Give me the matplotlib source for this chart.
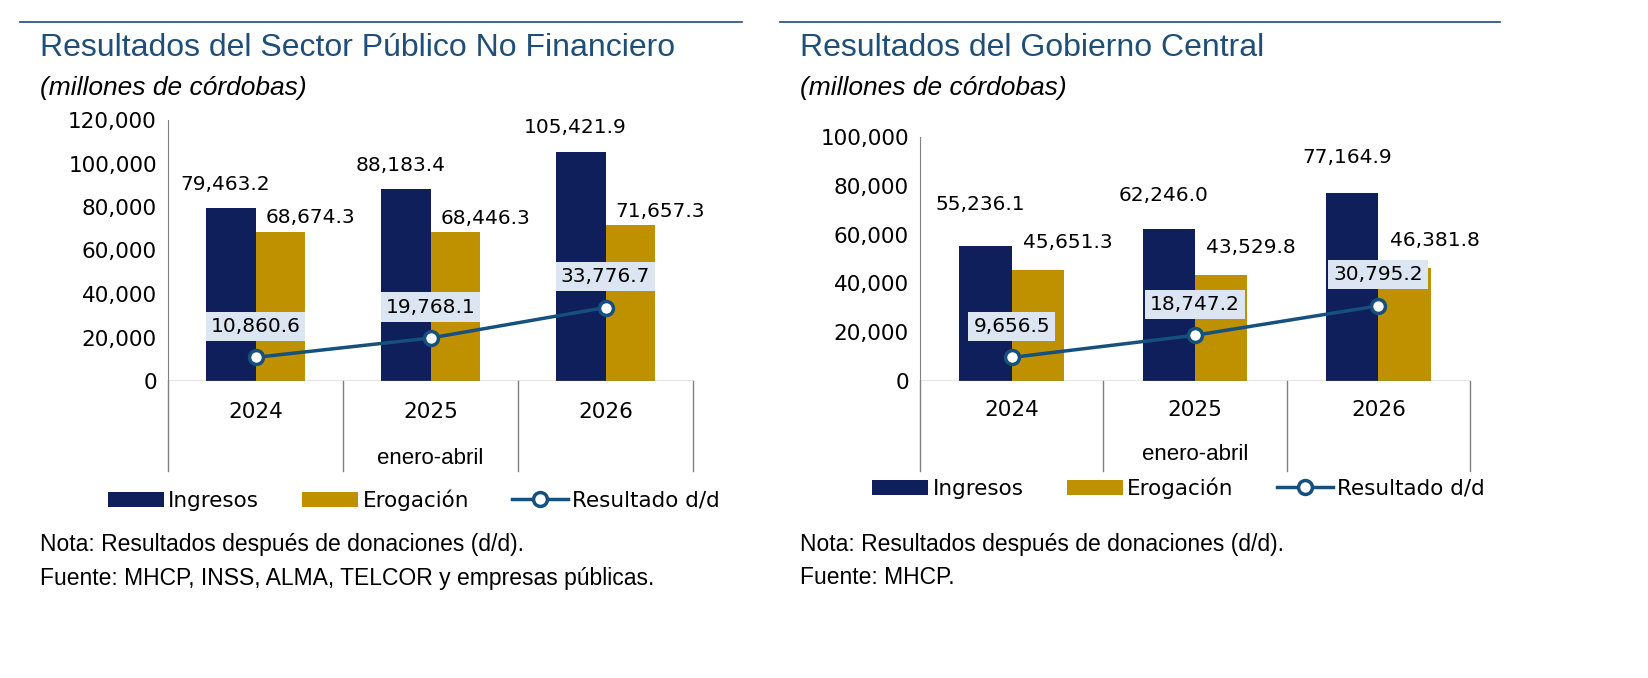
import matplotlib
matplotlib.use("Agg")
import matplotlib.pyplot as plt
import numpy as np

# --- Data --------------------------------------------------------------------
years = ["2024", "2025", "2026"]

spnf_ingresos = [79463.2, 88183.4, 105421.9]
spnf_erogacion = [68674.3, 68446.3, 71657.3]
spnf_resultado = [10860.6, 19768.1, 33776.7]

gc_ingresos = [55236.1, 62246.0, 77164.9]
gc_erogacion = [45651.3, 43529.8, 46381.8]
gc_resultado = [9656.5, 18747.2, 30795.2]

W, H = 1648, 678
NAVY = "#0E1F5B"
GOLD = "#BF9000"
LINE = "#15507F"
TITLE = "#1F4E79"
BOXC = "#DCE6F2"

fig = plt.figure(figsize=(W / 100, H / 100), dpi=100)


def px_axes(l, t, r, b):
    return fig.add_axes([l / W, 1 - b / H, (r - l) / W, (b - t) / H])


def panel(l, t, r, b, ymax, ing, ero, res, ing_off, ero_off, title, notes,
          rule, cat_y, sub_y, leg_y, note_y):
    ax = px_axes(l, t, r, b)
    x = np.arange(len(years))
    w = 0.285
    h1 = ax.bar(x - w / 2, ing, w, color=NAVY, label="Ingresos")
    h2 = ax.bar(x + w / 2, ero, w, color=GOLD, label="Erogación")
    h3, = ax.plot(x, res, color=LINE, lw=2.5, marker="o", ms=10, mfc="white",
                  mec=LINE, mew=2.5, label="Resultado d/d")
    ax.set_xlim(-0.5, 2.5)
    ax.set_ylim(0, ymax)
    ax.set_yticks(np.arange(0, ymax + 1, 20000))
    ax.yaxis.set_major_formatter(matplotlib.ticker.FuncFormatter(lambda v, p: f"{v:,.0f}"))
    ax.tick_params(axis="y", labelsize=15.5, length=0, pad=8)
    ax.set_xticks([])
    for s in ["top", "right", "bottom"]:
        ax.spines[s].set_visible(False)
    ax.spines["left"].set_color("#808080")
    ax.axhline(0, color="#808080", lw=1)
    # category separators extending below
    ext = 90 / (b - t)
    for xs in [-0.5, 0.5, 1.5, 2.5]:
        ax.plot([xs, xs], [0, -ext], transform=ax.get_xaxis_transform(),
                color="#808080", lw=1, clip_on=False)
    for i, yr in enumerate(years):
        ax.text(i, -(cat_y - b) / (b - t), yr, transform=ax.get_xaxis_transform(),
                ha="center", va="center", fontsize=15.5)
    ax.text(1, -(sub_y - b) / (b - t), "enero-abril", transform=ax.get_xaxis_transform(),
            ha="center", va="center", fontsize=16, family="Liberation Sans")
    for i in range(3):
        ax.annotate(f"{ing[i]:,.1f}", (i - w / 2, ing[i]), xytext=(-5, ing_off[i]),
                    textcoords="offset pixels", ha="center", va="center", fontsize=14.5)
        ax.annotate(f"{ero[i]:,.1f}", (i + w / 2, ero[i]), xytext=(30, ero_off),
                    textcoords="offset pixels", ha="center", va="center", fontsize=14.5)
        ax.annotate(f"{res[i]:,.1f}", (i, res[i]), xytext=(0, 31),
                    textcoords="offset pixels", ha="center", va="center", fontsize=14.5,
                    bbox=dict(boxstyle="square,pad=0.25", fc=BOXC, ec="none"))
    ax.legend([h1, h2, h3], ["Ingresos", "Erogación", "Resultado d/d"],
              loc="center", bbox_to_anchor=((l + r) / 2 / W - 0.01, 1 - leg_y / H),
              bbox_transform=fig.transFigure, ncol=3, frameon=False, fontsize=15.5,
              handlelength=2.6, columnspacing=2.0, handletextpad=0.2)
    # header
    fig.add_artist(plt.Line2D([rule[0] / W, rule[1] / W], [1 - 22 / H] * 2,
                              color=TITLE, lw=1.2))
    fig.text((rule[0] + 20) / W, 1 - 48 / H, title, fontsize=23, color=TITLE,
             family="Liberation Sans", va="center")
    fig.text((rule[0] + 20) / W, 1 - 88 / H, "(millones de córdobas)", fontsize=19,
             style="italic", family="Liberation Sans", va="center")
    for k, n in enumerate(notes):
        fig.text((rule[0] + 20) / W, 1 - (note_y + 33 * k) / H, n, fontsize=16.5,
                 family="Liberation Sans", va="center")


panel(168, 120, 693, 381, 120000, spnf_ingresos, spnf_erogacion, spnf_resultado,
      [24, 24, 24], 14, "Resultados del Sector Público No Financiero",
      ["Nota: Resultados después de donaciones (d/d).",
       "Fuente: MHCP, INSS, ALMA, TELCOR y empresas públicas."],
      (20, 742), 412, 458, 500, 545)
panel(920, 137, 1470, 381, 100000, gc_ingresos, gc_erogacion, gc_resultado,
      [42, 34, 35], 27, "Resultados del Gobierno Central",
      ["Nota: Resultados después de donaciones (d/d).", "Fuente: MHCP."],
      (780, 1500), 410, 455, 488, 545)

fig.savefig("out.png", dpi=100)
